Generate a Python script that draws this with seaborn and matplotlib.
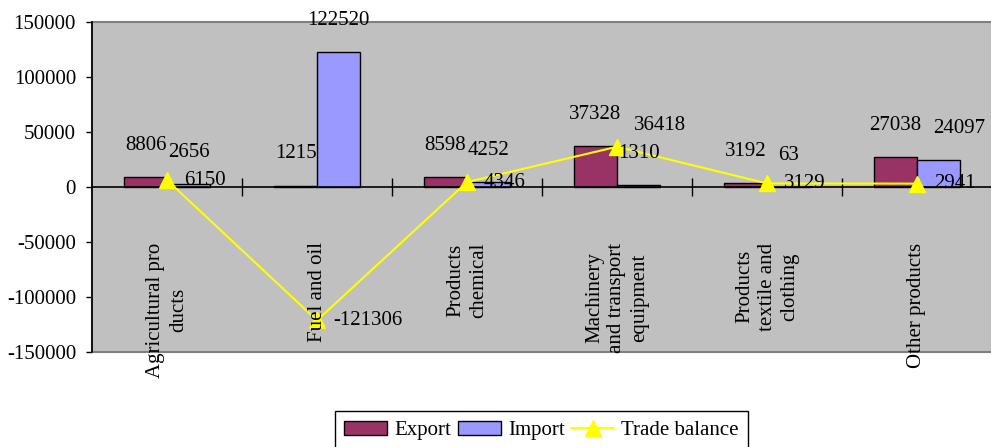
import numpy as np
import pandas as pd
import matplotlib
matplotlib.use("Agg")
import matplotlib.pyplot as plt
from matplotlib.patches import Rectangle, Patch
from matplotlib.lines import Line2D
import seaborn as sns

# Trade by product group
categories = [
    "Agricultural pro\nducts",
    "Fuel and oil",
    "Products\nchemical",
    "Machinery\nand transport\nequipment",
    "Products\ntextile and\nclothing",
    "Other products",
]
export_values = [8806, 1215, 8598, 37328, 3192, 27038]
import_values = [2656, 122520, 4252, 1310, 63, 24097]
balance_values = [6150, -121306, 4346, 36418, 3129, 2941]
series_names = ["Export", "Import", "Trade balance"]
y_ticks = [150000, 100000, 50000, 0, -50000, -100000, -150000]

EXPORT_COLOR = "#993366"
IMPORT_COLOR = "#9999FF"
LINE_COLOR = "#FFFF00"
FS = 15

sns.set_theme(style="white")
plt.rcParams["font.family"] = ["Liberation Serif", "DejaVu Serif"]
plt.rcParams["axes.unicode_minus"] = False

df = pd.DataFrame({
    "category": categories * 2,
    "series": [series_names[0]] * len(categories) + [series_names[1]] * len(categories),
    "value": export_values + import_values,
})

fig = plt.figure(figsize=(9.91, 4.47), dpi=100)
ax = fig.add_axes([92 / 991, 1 - 352 / 447, 900 / 991, (352 - 21.7) / 447])
ax.set_facecolor("#C0C0C0")

sns.barplot(
    data=df, x="category", y="value", hue="series",
    palette={series_names[0]: EXPORT_COLOR, series_names[1]: IMPORT_COLOR},
    saturation=1, width=0.573, gap=0, edgecolor="black", linewidth=1,
    ax=ax, zorder=2,
)
if ax.get_legend() is not None:
    ax.get_legend().remove()

n = len(categories)
xpos = np.arange(n)

# trade balance line
ax.plot(xpos, balance_values, color=LINE_COLOR, lw=1.5, marker="^",
        markersize=11, markerfacecolor=LINE_COLOR, markeredgecolor=LINE_COLOR,
        zorder=4, clip_on=False)

# value labels above the bars (the last import label is nudged right)
for k, (cont, vals) in enumerate(zip(ax.containers[:2], [export_values, import_values])):
    texts = ax.bar_label(cont, labels=[str(v) for v in vals], padding=16,
                         fontsize=FS, color="black", zorder=5)
    if k == 1:
        texts[-1].set_x(texts[-1].get_position()[0])
        texts[-1].xyann = (15, texts[-1].xyann[1])

# value labels next to the balance points
for i, v in enumerate(balance_values):
    dy = 15 if i == 3 else 0
    ax.annotate(str(v), xy=(i, v), xytext=(12, dy), textcoords="offset points",
                ha="left", va="center", fontsize=FS, color="black", zorder=5)

# category names, rotated, inside the plotting area
for i, lab in enumerate(categories):
    ax.text(i, -50500, lab, rotation=90, ha="center", va="top",
            multialignment="center", fontsize=FS, linespacing=1.25,
            color="black", clip_on=False, zorder=5)

ax.set_xlim(-0.5, n - 0.5)
ax.set_ylim(-150000, 150000)
ax.set_xlabel("")
ax.set_ylabel("")

ax.set_yticks(y_ticks)
ax.set_yticklabels([str(t) for t in y_ticks], fontsize=FS)
ax.tick_params(axis="y", direction="out", length=4.5, width=1, color="black",
               pad=7, left=True, labelcolor="black")

ax.set_xticks([])
ax.set_xticks(np.arange(0.5, n, 1.0), minor=True)
ax.tick_params(axis="x", which="minor", direction="inout", length=13, width=1,
               color="black", bottom=True, labelbottom=False)

for s in ["top", "right"]:
    ax.spines[s].set_visible(False)
ax.spines["left"].set_color("black")
ax.spines["left"].set_linewidth(1.2)
ax.spines["left"].set_zorder(6)
ax.spines["bottom"].set_position(("data", 0))
ax.spines["bottom"].set_color("black")
ax.spines["bottom"].set_linewidth(1.2)
ax.spines["bottom"].set_zorder(3)

# plot-area border
ax.add_patch(Rectangle((0, 0), 1, 1, transform=ax.transAxes, fill=False,
                       edgecolor="#808080", lw=1.5, clip_on=False, zorder=1))

handles = [
    Patch(facecolor=EXPORT_COLOR, edgecolor="black", lw=1),
    Patch(facecolor=IMPORT_COLOR, edgecolor="black", lw=1),
    Line2D([0], [0], color=LINE_COLOR, lw=1.5, marker="^", markersize=11,
           markerfacecolor=LINE_COLOR, markeredgecolor=LINE_COLOR),
]
leg = fig.legend(handles, series_names, loc="upper center",
                 bbox_to_anchor=(541.5 / 991, 1 - 401 / 447), ncol=3,
                 frameon=True, fancybox=False, edgecolor="black", framealpha=1,
                 fontsize=FS, handlelength=2.07, handletextpad=0.35,
                 columnspacing=0.3, borderpad=0.45)
leg.get_frame().set_linewidth(1)
for t in leg.get_texts():
    t.set_color("black")

fig.savefig("out.png", dpi=100)
